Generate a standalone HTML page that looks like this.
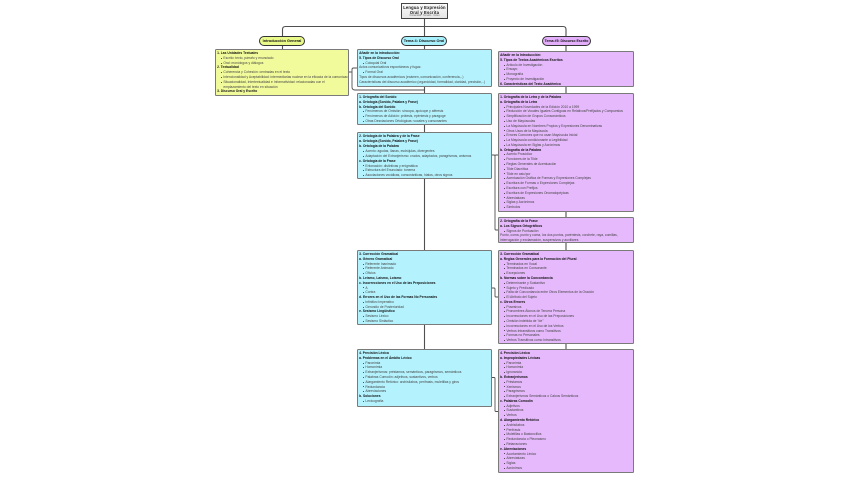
<!DOCTYPE html>
<html lang="es"><head><meta charset="utf-8"><title>Lengua y Expresión Oral y Escrita</title>
<style>
html,body{margin:0;padding:0;background:#fff}
body{position:relative;width:848px;height:477px;overflow:hidden;font-family:"Liberation Sans",sans-serif;color:#222}
svg{position:absolute;left:0;top:0}
.b{position:absolute;box-sizing:border-box;border:.9px solid #7a7a7a;border-radius:1.4px;padding:1.1px 0 0 1.1px;font-size:3.3px;line-height:4.78px;white-space:nowrap;overflow:hidden}
.y{background:#f2fb9c}.c{background:#b4f2fd}.p{background:#e5b9fb}
.b div{color:#444}
.b .h{font-weight:bold;color:#111}
.b .l{padding-left:6.3px;position:relative}
.b .l:before{content:"";position:absolute;left:3.6px;top:1.9px;width:1px;height:1px;border-radius:50%;background:#222}
.pill{position:absolute;box-sizing:border-box;height:10px;border:.9px solid #333;border-radius:5px;text-align:center;font-size:3.85px;line-height:8.4px;font-weight:bold;color:#111;white-space:nowrap}
.root{position:absolute;left:401px;top:3px;width:47px;height:16px;box-sizing:border-box;border:.9px solid #444;background:linear-gradient(#fafafa,#e6e6e6);text-align:center;font-weight:bold;font-size:4.1px;line-height:5px;padding-top:1.2px;color:#111;letter-spacing:.2px}
.root small{display:block;font-size:2.3px;line-height:3px;font-weight:normal;color:#666;letter-spacing:0}
</style></head><body>
<svg width="848" height="477" viewBox="0 0 848 477" fill="none" stroke="#505050" stroke-width="1.1">
<path d="M424.500 19V36M282.500 36V29.500Q282.500 26.500 285.500 26.500H563Q566 26.500 566 29.500V36"/>
<path d="M282.500 45V49M424.500 46V49M566 46V51M424.500 87V93M424.500 125V132M424.500 179V250M424.500 325V349M566 87V93M566 212V217M566 243V250M566 344V349"/>
<path d="M349 72H351.500M357 68H353.500Q352 68 352 69.500V87Q352 90 355 90H424.500" stroke-width=".9"/>
<path d="M492 155H494Q495 155 495 156V229Q495 230 496 230H498M495 156Q495 155 496 155H498" stroke-width=".9"/>
<path d="M492 288H494Q495 288 495 289V296Q495 297 496 297H498" stroke-width=".9"/>
<path d="M492 377.500H494Q495 377.500 495 378.500V410.500Q495 411.500 496 411.500H498" stroke-width=".9"/>
</svg>

<div class="root">Lengua y Expresión<br>Oral y Escrita<small>Contenidos · Temario · Curso</small></div>
<div class="pill y" style="left:259px;top:36px;width:46px;background:#e9f98a">Introducción General</div>
<div class="pill c" style="left:401px;top:36px;width:46px;background:#a8f0fc">Tema 4: Discurso Oral</div>
<div class="pill p" style="left:542px;top:36px;width:49px;background:#e3aefa;font-size:3.5px">Tema #5: Discurso Escrito</div>

<div class="b y" style="left:215px;top:49px;width:134px;height:47px">
<div class="h">1. Las Unidades Textuales</div>
<div class="l">Escrito: texto, párrafo y enunciado</div>
<div class="l">Oral: monólogos y diálogos</div>
<div class="h">2. Textualidad</div>
<div class="l">Coherencia y Cohesión: centradas en el texto</div>
<div class="l">Intencionalidad y Aceptabilidad: intermediarias nuclear en la eficacia de la comunicación</div>
<div class="l">Situacionalidad, Intertextualidad e Informatividad: relacionadas con el</div>
<div style="padding-left:6.3px">emplazamiento del texto en situación</div>
<div class="h">3. Discurso Oral y Escrito</div>
</div>

<div class="b c" style="left:357px;top:49px;width:135px;height:38px">
<div class="h">Añadir en la introducción:</div>
<div class="h">5. Tipos de Discurso Oral</div>
<div class="l">Coloquial Oral</div>
<div>Actos comunicativos espontáneos y fugaz.</div>
<div class="l">Formal Oral</div>
<div>Tipos de discursos académicos (exámen, comunicación, conferencia,..)</div>
<div>Características del discurso académico (organicidad, formalidad, claridad, precisión,..)</div>
</div>

<div class="b p" style="left:498px;top:51px;width:136px;height:36px">
<div class="h">Añadir en la Introducción:</div>
<div class="h">5. Tipos de Textos Académicos Escritos</div>
<div class="l">Artículo de Investigación</div>
<div class="l">Ensayo</div>
<div class="l">Monografía</div>
<div class="l">Proyecto de Investigación</div>
<div class="h">6. Características del Texto Académico</div>
</div>

<div class="b c" style="left:357px;top:93px;width:135px;height:32px">
<div class="h">1. Ortografía del Sonido</div>
<div class="h">a. Ortología (Sonido, Palabra y Frase)</div>
<div class="h">b. Ortología del Sonido</div>
<div class="l">Fenómenos de Omisión: síncopa, apócope y aféresis</div>
<div class="l">Fenómenos de Adición: prótesis, epéntesis y paragoge</div>
<div class="l">Otras Desviaciones Ortológicas: vocales y consonantes</div>
</div>

<div class="b c" style="left:357px;top:132px;width:135px;height:47px;line-height:4.9px">
<div class="h">2. Ortología de la Palabra y de la Frase</div>
<div class="h">a. Ortología (Sonido, Palabra y Frase)</div>
<div class="h">b. Ortología de la Palabra</div>
<div class="l">Acento: agudas, llanas, esdrújulas, divergentes</div>
<div class="l">Adaptación del Extranjerismo: crudos, adaptados, paragrismos, anismos</div>
<div class="h">c. Ortología de la Frase</div>
<div class="l">Entonación: distintivas y enigmática</div>
<div class="l">Estructura del Enunciado: tonema</div>
<div class="l">Asociaciones vocálicas, consonánticas, hiatos, otros signos</div>
</div>

<div class="b p" style="left:498px;top:93px;width:136px;height:119px">
<div class="h">1. Ortografía de la Letra y de la Palabra</div>
<div class="h">a. Ortografía de la Letra</div>
<div class="l">Principales Novedades de la Edición 2010 a 1999</div>
<div class="l">Reducción de Vocales Iguales Contiguas en Relativos/Prefijados y Compuestos</div>
<div class="l">Simplificación de Grupos Consonánticos</div>
<div class="l">Uso de Mayúsculas</div>
<div class="l">La Mayúscula en Nombres Propios y Expresiones Denominativas</div>
<div class="l">Otros Usos de la Mayúscula</div>
<div class="l">Errores Comunes que no usan Mayúscula Inicial</div>
<div class="l">La Mayúscula condicionante a Legibilidad</div>
<div class="l">La Mayúscula en Siglas y Acrónimos</div>
<div class="h">b. Ortografía de la Palabra</div>
<div class="l">Acento Prosódico</div>
<div class="l">Funciones de la Tilde</div>
<div class="l">Reglas Generales de Acentuación</div>
<div class="l">Tilde Diacrítica</div>
<div class="l">Tilde en asic/por</div>
<div class="l">Acentuación Gráfica de Formas y Expresiones Complejas</div>
<div class="l">Escritura de Formas o Expresiones Complejas</div>
<div class="l">Escritura con Prefijos</div>
<div class="l">Escritura de Expresiones Onomatopéyicas</div>
<div class="l">Abreviaturas</div>
<div class="l">Siglas y Acrónimos</div>
<div class="l">Símbolos</div>
</div>

<div class="b p" style="left:498px;top:217px;width:136px;height:26px">
<div class="h">2. Ortografía de la Frase</div>
<div class="h">a. Los Signos Ortográficos</div>
<div class="l">Signos de Puntuación</div>
<div>Punto, coma, punto y coma, los dos puntos, paréntesis, corchete, raya, comillas,</div>
<div>interrogación y exclamación, suspensivos y auxiliares</div>
</div>

<div class="b c" style="left:357px;top:250px;width:135px;height:75px">
<div class="h">3. Corrección Gramatical</div>
<div class="h">a. Género Gramatical</div>
<div class="l">Referente Inanimado</div>
<div class="l">Referente Animado</div>
<div class="l">Oficios</div>
<div class="h">b. Leísmo, Laísmo, Loísmo</div>
<div class="h">c. Incorrecciones en el Uso de las Preposiciones</div>
<div class="l">A</div>
<div class="l">Contra</div>
<div class="h">d. Errores en el Uso de las Formas No Personales</div>
<div class="l">Infinitivo Imperativo</div>
<div class="l">Gerundio de Posterioridad</div>
<div class="h">e. Sesismo Lingüístico</div>
<div class="l">Sesismo Léxico</div>
<div class="l">Sesismo Sintáctico</div>
</div>

<div class="b p" style="left:498px;top:250px;width:136px;height:94px">
<div class="h">3. Corrección Gramatical</div>
<div class="h">a. Reglas Generales para la Formación del Plural</div>
<div class="l">Terminados en Vocal</div>
<div class="l">Terminados en Consonante</div>
<div class="l">Excepciones</div>
<div class="h">b. Normas sobre la Concordancia</div>
<div class="l">Determinante y Sustantivo</div>
<div class="l">Sujeto y Predicado</div>
<div class="l">Falta de Concordancia entre Otros Elementos de la Oración</div>
<div class="l">El Atributo del Sujeto</div>
<div class="h">c. Otros Errores</div>
<div class="l">Posesivos</div>
<div class="l">Pronombres Átonos de Tercera Persona</div>
<div class="l">Incorrecciones en el Uso de las Preposiciones</div>
<div class="l">Omisión indebida de "de"</div>
<div class="l">Incorrecciones en el Uso de los Verbos</div>
<div class="l">Verbos Intransitivos como Transitivos</div>
<div class="l">Formas no Personales</div>
<div class="l">Verbos Transitivos como Intransitivos</div>
</div>

<div class="b c" style="left:357px;top:349px;width:135px;height:58px">
<div class="h">4. Precisión Léxica</div>
<div class="h">a. Problemas en el Ámbito Léxico</div>
<div class="l">Paronimia</div>
<div class="l">Homonimia</div>
<div class="l">Extranjerismos: préstamos, semánticos, paragrismos, semánticos</div>
<div class="l">Palabras Comodín: adjetivos, sustantivos, verbos</div>
<div class="l">Alargamiento Retórico: archisílabos, perífrasis, muletillas y giros</div>
<div class="l">Redundancia</div>
<div class="l">Abreviaciones</div>
<div class="h">b. Soluciones</div>
<div class="l">Lexicografía</div>
</div>

<div class="b p" style="left:498px;top:349px;width:136px;height:124px">
<div class="h">4. Precisión Léxica</div>
<div class="h">a. Impropiedades Léxicas</div>
<div class="l">Paronimia</div>
<div class="l">Homonimia</div>
<div class="l">Ignorancia</div>
<div class="h">b. Extranjerismos</div>
<div class="l">Préstamos</div>
<div class="l">Xenismos</div>
<div class="l">Paragrismos</div>
<div class="l">Extranjerismos Semánticos o Calcos Semánticos</div>
<div class="h">c. Palabras Comodín</div>
<div class="l">Adjetivos</div>
<div class="l">Sustantivos</div>
<div class="l">Verbos</div>
<div class="h">d. Alargamiento Retórico</div>
<div class="l">Archisílabos</div>
<div class="l">Perífrasis</div>
<div class="l">Muletillas o Bastoncillos</div>
<div class="l">Redundancia o Pleonasmo</div>
<div class="l">Retarraciones</div>
<div class="h">e. Abreviaciones</div>
<div class="l">Acortamiento Léxico</div>
<div class="l">Abreviaturas</div>
<div class="l">Siglas</div>
<div class="l">Acrónimos</div>
</div>
</body></html>
